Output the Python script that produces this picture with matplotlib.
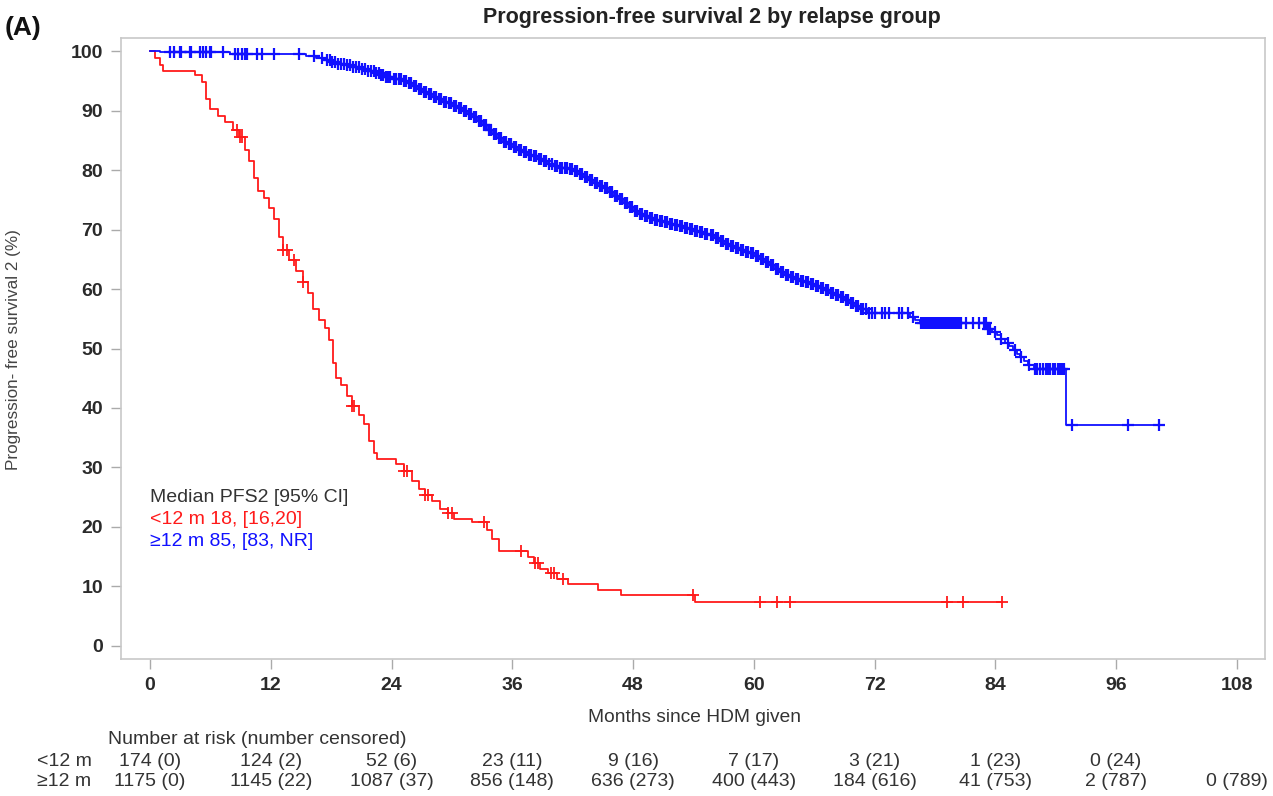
import numpy as np
import matplotlib
matplotlib.use("Agg")
import matplotlib.pyplot as plt
import matplotlib.transforms as mtransforms

plt.rcParams['font.family'] = ['Liberation Sans', 'DejaVu Sans']

# ---------------- data ----------------
red_times = [0, 0.5, 1.0, 1.3, 4.5, 5.2, 5.6, 6.0, 6.8, 7.5, 8.2, 8.8, 9.4, 9.8, 10.3, 10.7,
             11.3, 11.8, 12.3, 12.8, 13.2, 13.8, 14.5, 15.2, 15.7, 16.2, 16.8, 17.4, 17.8,
             18.2, 18.5, 19.0, 19.6, 20.1, 20.8, 21.3, 21.8, 22.3, 22.6, 24.4, 25.2, 26.0,
             26.7, 27.3, 28.0, 28.8, 29.6, 30.2, 32.0, 33.5, 34.0, 34.7, 37.6, 38.2, 38.8,
             39.6, 40.4, 41.5, 44.5, 46.8, 54.2, 84.7]
red_surv = [100, 98.9, 97.7, 96.6, 96.0, 94.8, 92.0, 90.2, 89.1, 88.0, 86.8, 85.6, 83.3, 81.6,
            78.7, 76.4, 75.3, 73.6, 71.8, 68.8, 66.5, 64.8, 63.0, 61.2, 59.4, 56.6, 54.8, 53.5,
            51.5, 47.5, 45.0, 43.8, 42.0, 40.3, 38.8, 37.3, 34.4, 32.5, 31.5, 30.5, 29.4, 27.8,
            26.3, 25.4, 24.3, 23.0, 22.3, 21.4, 20.8, 19.5, 17.9, 16.0, 15.0, 14.0, 13.0, 12.2,
            11.3, 10.4, 9.4, 8.6, 7.4, 7.4]
red_censor = [8.6, 8.9, 9.1, 13.2, 13.6, 14.3, 15.2, 20.1, 20.3, 25.2, 25.5, 27.3, 27.6, 29.6,
              30.0, 33.2, 36.9, 38.3, 38.6, 39.8, 40.1, 41.0, 54.0, 60.6, 62.3, 63.6, 79.2,
              80.8, 84.7]

blue_times = [0, 1.0, 8.0, 15.5, 16.5, 17.2, 18.0, 18.7, 19.5, 20.2, 21.0, 21.7, 22.5, 23.0,
              23.5, 24.2, 25.0, 25.5, 26.0, 26.5, 27.0, 27.5, 28.0, 28.5, 29.0, 29.5, 30.0,
              30.5, 31.0, 31.5, 32.0, 32.5, 33.0, 33.5, 34.0, 34.5, 35.0, 35.5, 36.0, 36.5,
              37.0, 37.5, 38.0, 38.5, 39.0, 39.5, 40.0, 40.7, 41.5, 42.0, 42.5, 43.0, 43.5,
              44.0, 44.5, 45.0, 45.5, 46.0, 46.5, 47.0, 47.5, 48.0, 48.5, 49.0, 49.5, 50.0,
              50.5, 51.0, 51.5, 52.0, 52.5, 53.0, 53.5, 54.0, 54.5, 55.0, 55.5, 56.0, 56.5,
              57.0, 57.5, 58.0, 58.5, 59.0, 59.5, 60.0, 60.5, 61.0, 61.5, 62.0, 62.5, 63.0,
              63.5, 64.0, 64.5, 65.0, 65.5, 66.0, 66.5, 67.0, 67.5, 68.0, 68.5, 69.0, 69.5,
              70.0, 70.5, 71.3, 75.5, 76.0, 76.5, 83.2, 83.7, 84.2, 84.6, 85.0, 85.4, 85.8,
              86.2, 86.5, 86.9, 87.2, 87.8, 91.0, 100.4]
blue_surv = [100, 99.8, 99.5, 99.2, 98.8, 98.5, 98.2, 97.9, 97.6, 97.3, 97.0, 96.7, 96.3, 95.9,
             95.6, 95.3, 95.0, 94.6, 94.2, 93.7, 93.2, 92.8, 92.3, 91.9, 91.5, 91.2, 90.8,
             90.4, 90.0, 89.5, 89.0, 88.3, 87.6, 86.8, 86.0, 85.4, 84.8, 84.3, 83.8, 83.4,
             83.0, 82.6, 82.3, 81.9, 81.5, 81.1, 80.7, 80.4, 80.2, 79.8, 79.4, 78.9, 78.4,
             77.9, 77.4, 76.9, 76.3, 75.7, 75.1, 74.4, 73.8, 73.1, 72.6, 72.2, 71.9, 71.6,
             71.4, 71.2, 71.0, 70.8, 70.6, 70.3, 70.1, 69.8, 69.6, 69.3, 69.0, 68.6, 68.1,
             67.6, 67.2, 66.9, 66.6, 66.3, 66.0, 65.5, 65.0, 64.5, 64.0, 63.4, 62.8, 62.4,
             62.0, 61.7, 61.4, 61.1, 60.8, 60.5, 60.2, 59.8, 59.4, 59.0, 58.6, 58.1, 57.6,
             57.1, 56.6, 56.0, 55.3, 54.8, 54.3, 53.3, 52.8, 52.3, 51.6, 51.0, 50.4, 49.8,
             49.1, 48.5, 47.9, 47.3, 46.5, 37.2, 37.2]
blue_censor = [2.0, 2.4, 3.0, 3.1, 4.0, 4.1, 5.0, 5.3, 5.6, 6.0, 6.1, 7.3, 8.4, 8.7, 9.1, 9.4,
               9.6, 10.6, 11.1, 12.3, 14.8, 16.3, 17.1, 17.6, 17.9, 18.1,
               18.4, 18.7, 19.0, 19.3, 19.6, 19.9, 20.2, 20.5, 20.8, 21.1, 21.4, 21.7, 22.0,
               22.3, 22.5, 22.8, 23.0, 23.2, 23.5, 23.7, 23.9, 24.2, 24.4, 24.7, 24.9, 25.2,
               25.4, 25.7, 25.9, 26.2, 26.4, 26.7, 26.9, 27.2, 27.4, 27.7, 27.9, 28.2, 28.4,
               28.7, 28.9, 29.2, 29.4, 29.7, 29.9, 30.2, 30.4, 30.7, 30.9, 31.2, 31.4, 31.7,
               31.9, 32.2, 32.4, 32.7, 32.9, 33.2, 33.4, 33.7, 33.9, 34.2, 34.4, 34.7, 34.9,
               35.2, 35.4, 35.7, 35.9, 36.2, 36.4, 36.7, 36.9, 37.2, 37.4, 37.7, 37.9, 38.2,
               38.4, 38.7, 38.9, 39.2, 39.4, 39.7, 39.9, 40.2, 40.4, 40.7, 40.9, 41.2, 41.4,
               41.7, 41.9, 42.2, 42.4, 42.7, 42.9, 43.2, 43.4, 43.7, 43.9, 44.2, 44.4, 44.7,
               44.9, 45.2, 45.4, 45.7, 45.9, 46.2, 46.4, 46.7, 46.9, 47.2, 47.4, 47.7, 47.9,
               48.2, 48.4, 48.7, 48.9, 49.2, 49.4, 49.7, 49.9, 50.2, 50.4, 50.7, 50.9, 51.2,
               51.4, 51.7, 51.9, 52.2, 52.4, 52.7, 52.9, 53.2, 53.4, 53.7, 53.9, 54.2, 54.4,
               54.7, 54.9, 55.2, 55.4, 55.7, 55.9, 56.2, 56.4, 56.7, 56.9, 57.2, 57.4, 57.7,
               57.9, 58.2, 58.4, 58.7, 58.9, 59.2, 59.4, 59.7, 59.9, 60.2, 60.4, 60.7, 60.9,
               61.2, 61.4, 61.7, 61.9, 62.2, 62.4, 62.7, 62.9, 63.2, 63.4, 63.7, 63.9, 64.2,
               64.4, 64.7, 64.9, 65.2, 65.4, 65.7, 65.9, 66.2, 66.4, 66.7, 66.9, 67.2, 67.4,
               67.7, 67.9, 68.2, 68.4, 68.7, 68.9, 69.2, 69.4, 69.7, 69.9, 70.2, 70.4, 70.7,
               70.9, 71.2, 71.4, 71.7, 72.0, 72.7, 73.0, 73.4, 74.4, 74.7, 75.3, 75.8, 76.6,
               76.8, 77.0, 77.2, 77.4, 77.6, 77.8, 78.0, 78.2, 78.4, 78.6, 78.8, 79.0, 79.2,
               79.4, 79.6, 79.8, 80.0, 80.2, 80.4, 80.6, 81.1, 81.8, 82.4, 82.9, 83.1, 83.3,
               83.5, 84.0, 84.6, 85.3, 86.0, 86.6, 87.3, 87.9, 88.1, 88.4, 88.7, 89.0, 89.2,
               89.4, 89.7, 89.9, 90.2, 90.4, 90.6, 90.8, 91.6, 97.2, 100.3]

xticks = [0, 12, 24, 36, 48, 60, 72, 84, 96, 108]
yticks = [0, 10, 20, 30, 40, 50, 60, 70, 80, 90, 100]
risk_lt12 = ["174 (0)", "124 (2)", "52 (6)", "23 (11)", "9 (16)", "7 (17)", "3 (21)",
             "1 (23)", "0 (24)", ""]
risk_ge12 = ["1175 (0)", "1145 (22)", "1087 (37)", "856 (148)", "636 (273)", "400 (443)",
             "184 (616)", "41 (753)", "2 (787)", "0 (789)"]

RED = '#ff1a1a'
BLUE = '#1010ff'
TXT = '#333333'

# ---------------- figure ----------------
W, H = 1273, 796
fig = plt.figure(figsize=(W / 100, H / 100), dpi=100)
L, R, T, B = 121, 1265, 38, 659
ax = fig.add_axes([L / W, 1 - B / H, (R - L) / W, (B - T) / H])


def step_at(times, surv, pts):
    t = np.asarray(times)
    s = np.asarray(surv)
    idx = np.searchsorted(t, np.asarray(pts), side='right') - 1
    return s[np.clip(idx, 0, len(s) - 1)]


ax.step(red_times, red_surv, where='post', color=RED, lw=1.3)
ax.plot(red_censor, step_at(red_times, red_surv, red_censor), ls='none', marker='+',
        ms=9, mew=1.3, color=RED)
ax.step(blue_times, blue_surv, where='post', color=BLUE, lw=1.3)
ax.plot(blue_censor, step_at(blue_times, blue_surv, blue_censor), ls='none', marker='+',
        ms=8, mew=1.6, color=BLUE)

ax.set_xlim(-2.88, 110.8)
ax.set_ylim(-2.2, 102.2)
ax.set_xticks(xticks)
ax.set_yticks(yticks)
ax.tick_params(axis='both', direction='out', length=7, width=1, color='#aaaaaa',
               labelcolor='#2a2a2a', labelsize=14, pad=6)
for lab in ax.get_xticklabels() + ax.get_yticklabels():
    lab.set_fontweight('bold')
for sp in ax.spines.values():
    sp.set_color('#c8c8c8')
    sp.set_linewidth(1.2)


def fx(px):
    return px / W


def fy(py):
    return 1 - py / H


fig.text(fx(5), fy(28), "(A)", fontsize=19, fontweight='bold', va='center', ha='left',
         color='#111111')
fig.text(fx(712), fy(18), "Progression-free survival 2 by relapse group", fontsize=15.5,
         fontweight='bold', ha='center', va='center', color='#222222')
fig.text(fx(14), fy(350), "Progression- free survival 2 (%)", fontsize=12.3, rotation=90,
         ha='center', va='center', color='#444444')

fig.text(fx(150), fy(497), "Median PFS2 [95% CI]", fontsize=14, ha='left', va='center',
         color=TXT)
fig.text(fx(150), fy(519), "<12 m 18, [16,20]", fontsize=14, ha='left', va='center',
         color=RED)
fig.text(fx(150), fy(541), "\u226512 m 85, [83, NR]", fontsize=14, ha='left', va='center',
         color=BLUE)

fig.text(fx(694), fy(717), "Months since HDM given", fontsize=13.8, ha='center',
         va='center', color=TXT)
fig.text(fx(108), fy(740), "Number at risk (number censored)", fontsize=14, ha='left',
         va='center', color=TXT)
fig.text(fx(37), fy(761), "<12 m", fontsize=14, ha='left', va='center', color=TXT)
fig.text(fx(37), fy(782), "\u226512 m", fontsize=14, ha='left', va='center', color=TXT)

tr = mtransforms.blended_transform_factory(ax.transData, fig.transFigure)
for xv, a, b in zip(xticks, risk_lt12, risk_ge12):
    if a:
        ax.text(xv, fy(761), a, transform=tr, fontsize=14, ha='center', va='center',
                color=TXT, clip_on=False)
    if b:
        ax.text(xv, fy(782), b, transform=tr, fontsize=14, ha='center', va='center',
                color=TXT, clip_on=False)

fig.savefig("out.png", dpi=100)
